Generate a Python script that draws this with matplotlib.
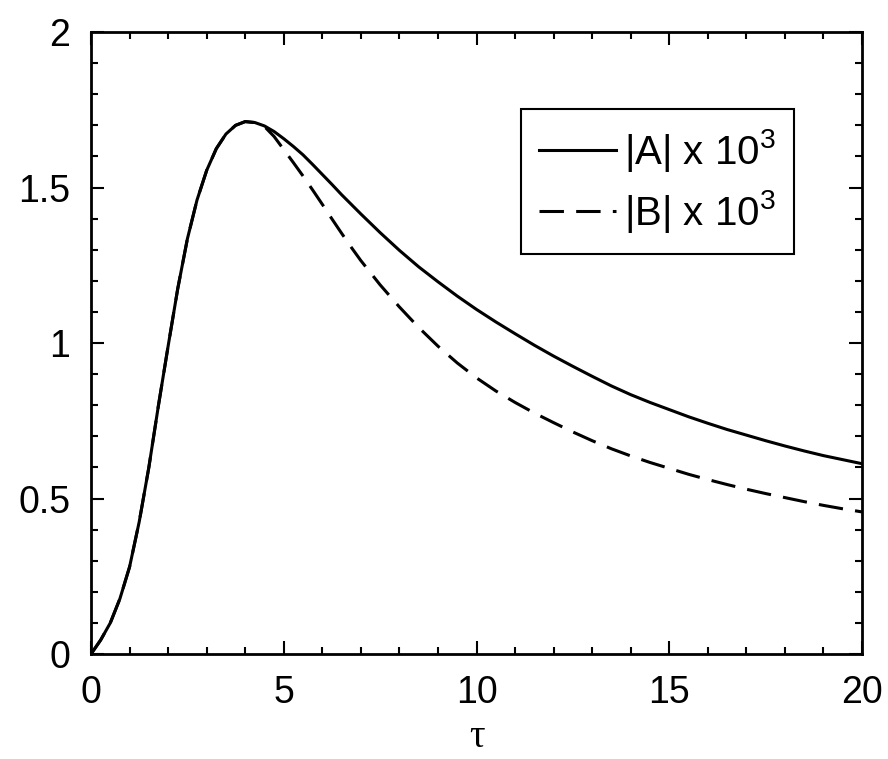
import matplotlib
matplotlib.use("Agg")
import matplotlib.pyplot as plt

plt.rcParams['font.family'] = ['Liberation Sans', 'DejaVu Sans']
plt.rcParams['mathtext.default'] = 'regular'

tau_A = [0, 0.25, 0.5, 0.75, 1.0, 1.25, 1.5, 1.75, 2.0, 2.25, 2.5, 2.75, 3.0, 3.25,
         3.5, 3.75, 4.0, 4.25, 4.5, 4.75, 5.0, 5.25, 5.5, 5.75, 6.0, 6.25, 6.5, 6.75,
         7.0, 7.5, 8.0, 8.5, 9.0, 9.5, 10, 10.5, 11, 11.5, 12, 12.5, 13, 13.5, 14,
         14.5, 15, 15.5, 16, 16.5, 17, 17.5, 18, 18.5, 19, 19.5, 20]
A_vals = [0, 0.045, 0.10, 0.178, 0.28, 0.425, 0.60, 0.80, 0.99, 1.175, 1.335, 1.46, 1.555, 1.625,
          1.672, 1.700, 1.712, 1.709, 1.698, 1.680, 1.657, 1.632, 1.605, 1.574, 1.542, 1.510, 1.477, 1.446,
          1.415, 1.355, 1.298, 1.245, 1.197, 1.151, 1.108, 1.068, 1.030, 0.993, 0.958, 0.925, 0.893, 0.862, 0.834,
          0.809, 0.786, 0.763, 0.742, 0.722, 0.704, 0.686, 0.669, 0.653, 0.638, 0.625, 0.612]

tau_B = [0, 0.25, 0.5, 0.75, 1.0, 1.25, 1.5, 1.75, 2.0, 2.25, 2.5, 2.75, 3.0, 3.25,
         3.5, 3.75, 4.0, 4.25, 4.5, 4.75, 5.0, 5.25, 5.5, 5.75, 6.0, 6.25, 6.5, 6.75,
         7.0, 7.5, 8.0, 8.5, 9.0, 9.5, 10, 10.5, 11, 11.5, 12, 12.5, 13, 13.5, 14,
         14.5, 15, 15.5, 16, 16.5, 17, 17.5, 18, 18.5, 19, 19.5, 20]
B_vals = [0, 0.045, 0.10, 0.178, 0.28, 0.425, 0.60, 0.80, 0.99, 1.175, 1.335, 1.46, 1.555, 1.625,
          1.672, 1.700, 1.712, 1.709, 1.696, 1.664, 1.622, 1.580, 1.537, 1.492, 1.446, 1.399, 1.353, 1.308,
          1.265, 1.187, 1.116, 1.050, 0.990, 0.936, 0.888, 0.846, 0.809, 0.775, 0.744, 0.714, 0.686, 0.660, 0.637,
          0.616, 0.597, 0.578, 0.561, 0.545, 0.530, 0.516, 0.503, 0.490, 0.478, 0.467, 0.457]

labels = ['|A| x 10$^{3}$', '|B| x 10$^{3}$']
x_ticks = [0, 5, 10, 15, 20]
y_ticks = [0, 0.5, 1, 1.5, 2]
y_tick_labels = ['0', '0.5', '1', '1.5', '2']

fig = plt.figure(figsize=(8.88, 7.59), dpi=100)
ax = fig.add_axes([0.1025, 0.1383, 0.8682, 0.8195])

ax.plot(tau_B, B_vals, color='black', lw=2.2, dashes=(8, 4), label=labels[1], zorder=2)
ax.plot(tau_A, A_vals, color='black', lw=2.2, label=labels[0], zorder=3)

ax.set_xlim(0, 20)
ax.set_ylim(0, 2)
ax.set_xticks(x_ticks)
ax.set_xticks(range(0, 21), minor=True)
ax.set_yticks(y_ticks)
ax.set_yticklabels(y_tick_labels)
ax.set_yticks([i / 10 for i in range(0, 21)], minor=True)

ax.tick_params(which='both', direction='in', top=True, right=True, labelsize=27, width=1.5, pad=15)
ax.tick_params(which='major', length=9.5)
ax.tick_params(which='minor', length=5)
for s in ax.spines.values():
    s.set_linewidth(2)

ax.set_xlabel('τ', family=['Liberation Serif', 'DejaVu Serif'], fontsize=28, labelpad=6)

handles, labs = ax.get_legend_handles_labels()
order = [1, 0]
leg = ax.legend([handles[i] for i in order], [labs[i] for i in order],
                loc='upper left', bbox_to_anchor=(0.558, 0.876), borderaxespad=0,
                fontsize=29, frameon=True, fancybox=False, edgecolor='black', framealpha=1,
                handlelength=1.9, handletextpad=0.2, labelspacing=0.35, borderpad=0.45)
leg.get_frame().set_linewidth(1.5)

fig.savefig('out.png', dpi=100)
